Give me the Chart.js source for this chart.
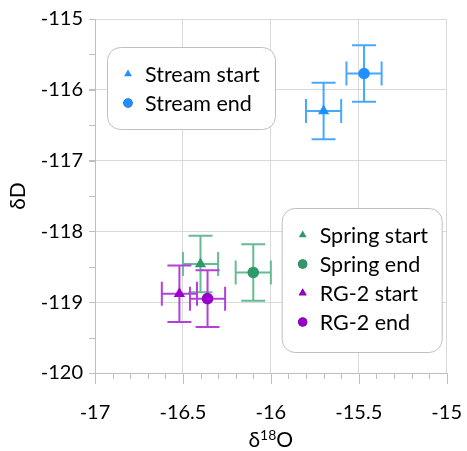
<!DOCTYPE html>
<html>
<head>
<meta charset="utf-8">
<script src="https://cdn.jsdelivr.net/npm/chart.js@4/dist/chart.umd.min.js"></script>
<style>
  html, body { margin: 0; padding: 0; background: #ffffff; }
  #wrap { width: 467px; height: 451px; }
</style>
</head>
<body>
<div id="wrap"><canvas id="c" width="467" height="451"></canvas></div>
<script>
// Sample names and isotope values (per mil)
const samples   = ['Stream start', 'Stream end', 'Spring start', 'Spring end', 'RG-2 start', 'RG-2 end'];
const d18O      = [-15.70, -15.47, -16.40, -16.10, -16.52, -16.36];
const dD        = [-116.30, -115.77, -118.46, -118.58, -118.88, -118.95];
const d18OError = [0.1, 0.1, 0.1, 0.1, 0.1, 0.1];
const dDError   = [0.4, 0.4, 0.4, 0.4, 0.4, 0.4];

// Axis tick values
const xTickValues = [-17, -16.5, -16, -15.5, -15];
const yTickValues = [-120, -119, -118, -117, -116, -115];
const xMinorStep = 0.1;
const yMinorStep = 0.5;

// Marker styling per sample
const markerShape = ['triangle', 'circle', 'triangle', 'circle', 'triangle', 'circle'];
const markerColor = ['#1E90FF', '#1E90FF', '#2E9A6A', '#2E9A6A', '#9A00CC', '#9A00CC'];
const errorColor  = ['#4AA8FA', '#4AA8FA', '#66BB94', '#66BB94', '#B440DC', '#B440DC'];

const FONT = 'Lato, "Open Sans", sans-serif';
const GRID = '#D9D9D9';
const AXIS = '#BFBFBF';

const datasets = samples.map((name, i) => ({
  label: name,
  data: [{ x: d18O[i], y: dD[i], xErr: d18OError[i], yErr: dDError[i] }],
  pointStyle: markerShape[i],
  pointRadius: markerShape[i] === 'triangle' ? 6.5 : 5.8,
  pointHoverRadius: markerShape[i] === 'triangle' ? 6.5 : 5.8,
  backgroundColor: markerColor[i],
  borderColor: markerColor[i],
  borderWidth: 0,
  errorColor: errorColor[i]
}));

// Error bars with caps, drawn beneath the markers
const errorBars = {
  id: 'errorBars',
  beforeDatasetsDraw(chart) {
    const { ctx, scales: { x, y } } = chart;
    const cap = 12;
    ctx.save();
    ctx.lineWidth = 2;
    chart.data.datasets.forEach(ds => {
      ctx.strokeStyle = ds.errorColor;
      ds.data.forEach(p => {
        const px = x.getPixelForValue(p.x), py = y.getPixelForValue(p.y);
        const x0 = x.getPixelForValue(p.x - p.xErr), x1 = x.getPixelForValue(p.x + p.xErr);
        const y0 = y.getPixelForValue(p.y + p.yErr), y1 = y.getPixelForValue(p.y - p.yErr);
        ctx.beginPath();
        ctx.moveTo(x0, py); ctx.lineTo(x1, py);
        ctx.moveTo(x0, py - cap); ctx.lineTo(x0, py + cap);
        ctx.moveTo(x1, py - cap); ctx.lineTo(x1, py + cap);
        ctx.moveTo(px, y0); ctx.lineTo(px, y1);
        ctx.moveTo(px - cap, y0); ctx.lineTo(px + cap, y0);
        ctx.moveTo(px - cap, y1); ctx.lineTo(px + cap, y1);
        ctx.stroke();
      });
    });
    ctx.restore();
  }
};

// Tick marks outside both axes: minor ticks, plus the longer major ticks on x
const axisTicks = {
  id: 'axisTicks',
  afterDraw(chart) {
    const { ctx, chartArea: a, scales: { x, y } } = chart;
    ctx.save();
    ctx.strokeStyle = AXIS;
    ctx.lineWidth = 1;
    ctx.beginPath();
    for (let v = x.min; v <= x.max + 1e-9; v += xMinorStep) {
      const px = Math.round(x.getPixelForValue(v)) + 0.5;
      ctx.moveTo(px, a.bottom); ctx.lineTo(px, a.bottom + 6);
    }
    x.ticks.forEach(t => {
      const px = Math.round(x.getPixelForValue(t.value)) + 0.5;
      ctx.moveTo(px, a.bottom); ctx.lineTo(px, a.bottom + 11);
    });
    for (let v = y.min; v <= y.max + 1e-9; v += yMinorStep) {
      const py = Math.round(y.getPixelForValue(v)) + 0.5;
      ctx.moveTo(a.left - 6, py); ctx.lineTo(a.left, py);
    }
    ctx.stroke();
    ctx.restore();
  }
};

// Axis titles: δ18O with a raised "18", δD rotated
const axisTitles = {
  id: 'axisTitles',
  afterDraw(chart) {
    const { ctx, chartArea: a } = chart;
    ctx.save();
    ctx.fillStyle = '#000';
    ctx.textBaseline = 'alphabetic';
    const big = '21px ' + FONT, small = '14px ' + FONT;
    ctx.font = big; const wD = ctx.measureText('δ').width, wO = ctx.measureText('O').width;
    ctx.font = small; const w18 = ctx.measureText('18').width;
    const total = wD + w18 + wO;
    let cx = (a.left + a.right) / 2 - total / 2;
    const base = 447;
    ctx.font = big; ctx.textAlign = 'left';
    ctx.fillText('δ', cx, base); cx += wD;
    ctx.font = small; ctx.fillText('18', cx, base - 7); cx += w18;
    ctx.font = big; ctx.fillText('O', cx, base);

    ctx.translate(25, (a.top + a.bottom) / 2);
    ctx.rotate(-Math.PI / 2);
    ctx.font = big; ctx.textAlign = 'center';
    ctx.fillText('δD', 0, 0);
    ctx.restore();
  }
};

// Two rounded legend boxes inside the plot area
const legendBoxes = {
  id: 'legendBoxes',
  afterDraw(chart) {
    const { ctx, chartArea: a } = chart;
    const groups = [
      { items: [0, 1], left: a.left + 12, top: a.top + 28, w: 168, h: 82 },
      { items: [2, 3, 4, 5], left: a.right - 165, top: a.bottom - 165, w: 160, h: 144 }
    ];
    ctx.save();
    groups.forEach(g => {
      ctx.beginPath();
      ctx.roundRect(g.left + 0.5, g.top + 0.5, g.w, g.h, 13);
      ctx.fillStyle = '#fff';
      ctx.fill();
      ctx.strokeStyle = '#BFBFBF';
      ctx.lineWidth = 1;
      ctx.stroke();
      g.items.forEach((idx, k) => {
        const ds = chart.data.datasets[idx];
        const my = g.top + 27 + k * 29;
        const mx = g.left + 21;
        Chart.helpers.drawPoint(ctx, {
          pointStyle: ds.pointStyle,
          radius: ds.pointStyle === 'triangle' ? 4.5 : 4.6,
          rotation: 0,
          borderWidth: 0
        }, mx, my);
        ctx.fillStyle = ds.backgroundColor;
        ctx.fill();
        ctx.fillStyle = '#000';
        ctx.font = '21.5px ' + FONT;
        ctx.textAlign = 'left';
        ctx.textBaseline = 'middle';
        ctx.fillText(ds.label, g.left + 38, my + 1);
      });
    });
    ctx.restore();
  }
};

new Chart(document.getElementById('c'), {
  type: 'scatter',
  data: { datasets },
  options: {
    responsive: false,
    animation: false,
    events: [],
    layout: { padding: { left: 0, top: 19, right: 16, bottom: 0 } },
    plugins: { legend: { display: false }, tooltip: { enabled: false } },
    scales: {
      x: {
        type: 'linear',
        min: -17, max: -15,
        afterBuildTicks: s => { s.ticks = xTickValues.map(v => ({ value: v })); },
        afterFit: s => { s.height = 78; },
        grid: { color: GRID, tickColor: 'rgba(0,0,0,0)', tickLength: 23, lineWidth: 1 },
        border: { color: AXIS, width: 1 },
        ticks: { color: '#000', font: { family: FONT, size: 20 }, padding: 5, maxRotation: 0,
                 callback: v => String(v) }
      },
      y: {
        type: 'linear',
        min: -120, max: -115,
        afterBuildTicks: s => { s.ticks = yTickValues.map(v => ({ value: v })); },
        afterFit: s => { s.width = 95; },
        grid: { color: GRID, tickColor: AXIS, tickLength: 6, lineWidth: 1 },
        border: { color: AXIS, width: 1 },
        ticks: { color: '#000', font: { family: FONT, size: 20 }, padding: 6,
                 callback: v => String(v) }
      }
    }
  },
  plugins: [errorBars, axisTicks, axisTitles, legendBoxes]
});
</script>
</body>
</html>
